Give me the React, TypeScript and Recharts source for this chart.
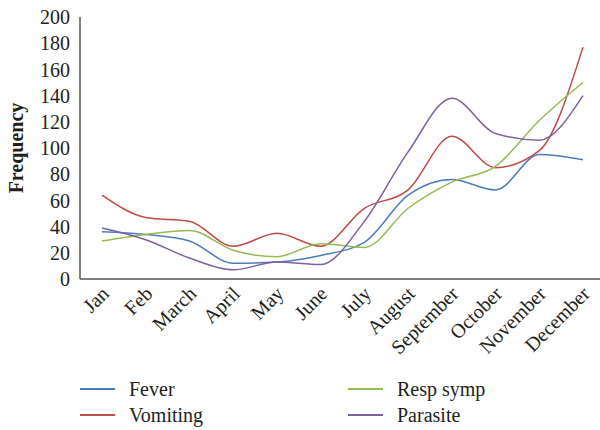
import React from "react";
import { LineChart, Line, XAxis, YAxis } from "recharts";

// ── Data ──────────────────────────────────────────────────────────────────────

const months = [
  "Jan", "Feb", "March", "April", "May", "June",
  "July", "August", "September", "October", "November", "December",
];
const fever = [36, 34, 29, 12, 13, 18, 28, 64, 76, 68, 95, 91];
const vomiting = [64, 47, 44, 25, 35, 25, 54, 68, 109, 85, 98, 177];
const respSymp = [29, 34, 37, 22, 17, 27, 24, 54, 74, 86, 121, 150];
const parasite = [39, 30, 16, 7, 13, 11, 44, 97, 138, 111, 106, 140];
const yTicks = [0, 20, 40, 60, 80, 100, 120, 140, 160, 180, 200];

const SERIES = [
  { key: "fever", name: "Fever", color: "#4a7ebb" },
  { key: "vomiting", name: "Vomiting", color: "#be4b48" },
  { key: "resp", name: "Resp symp", color: "#98b954" },
  { key: "parasite", name: "Parasite", color: "#7d60a0" },
];

const data = months.map((m, i) => ({
  month: m,
  fever: fever[i],
  vomiting: vomiting[i],
  resp: respSymp[i],
  parasite: parasite[i],
}));

const FONT = "Liberation Serif, Times New Roman, serif";
const AXIS = "#555555";
const TEXT = "#231f20";

if (typeof document !== "undefined") document.body.style.margin = "0";

function MonthTick(props: any) {
  const { x, payload } = props;
  return (
    <text
      transform={`translate(${x + 8},${295}) rotate(-45)`}
      textAnchor="end"
      fontFamily={FONT}
      fontSize={20}
      fill={TEXT}
    >
      {payload.value}
    </text>
  );
}

// legend placed as in the reference: two columns, two rows
const legendPos = [
  { left: 80, top: 378 },
  { left: 80, top: 404 },
  { left: 348, top: 378 },
  { left: 348, top: 404 },
];

export default function App() {
  return (
    <div style={{ position: "relative", width: 600, height: 430, background: "#fff" }}>
      <LineChart
        width={600}
        height={430}
        data={data}
        margin={{ top: 17, right: 0, left: 0, bottom: 91 }}
      >
        <XAxis
          dataKey="month"
          interval={0}
          height={60}
          padding={{ left: 22, right: 17 }}
          tickLine={false}
          axisLine={{ stroke: AXIS, strokeWidth: 1.5 }}
          tick={<MonthTick />}
        />
        <YAxis
          width={80}
          domain={[0, 200]}
          ticks={yTicks}
          interval={0}
          tickLine={false}
          tickMargin={4}
          axisLine={{ stroke: AXIS, strokeWidth: 1.5 }}
          tick={{ fontFamily: FONT, fontSize: 20, fill: TEXT }}
          label={{
            value: "Frequency",
            angle: -90,
            position: "insideLeft",
            offset: 16,
            style: {
              fontFamily: FONT,
              fontSize: 20,
              fontWeight: "bold",
              fill: TEXT,
              textAnchor: "middle",
            },
          }}
        />
        {SERIES.map((s) => (
          <Line
            key={s.key}
            dataKey={s.key}
            name={s.name}
            type="monotone"
            stroke={s.color}
            strokeWidth={1.5}
            dot={false}
            activeDot={false}
            isAnimationActive={false}
          />
        ))}
      </LineChart>
      {SERIES.map((s, i) => (
        <div
          key={s.key}
          style={{
            position: "absolute",
            left: legendPos[i].left,
            top: legendPos[i].top,
            display: "flex",
            alignItems: "center",
            fontFamily: FONT,
            fontSize: 20,
            lineHeight: "22px",
            color: TEXT,
          }}
        >
          <span
            style={{
              display: "inline-block",
              width: 35,
              height: 2,
              background: s.color,
              marginRight: 14,
            }}
          />
          {s.name}
        </div>
      ))}
    </div>
  );
}
